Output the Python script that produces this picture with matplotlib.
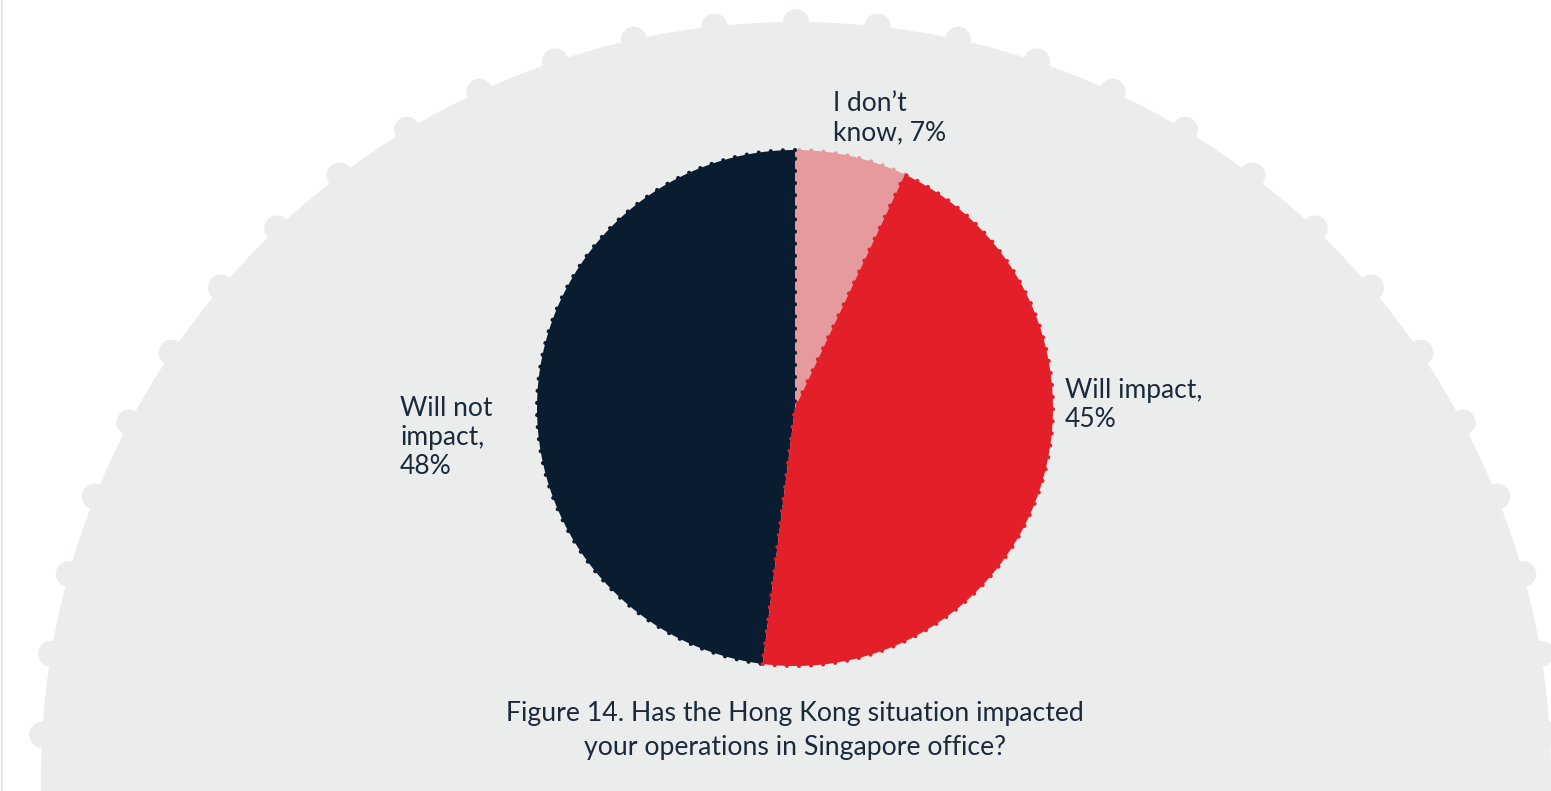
import numpy as np
import matplotlib
matplotlib.use("Agg")
import matplotlib.pyplot as plt
from matplotlib.patches import Circle

plt.rcParams['font.family'] = ['Lato', 'DejaVu Sans']

# Survey answers (share of respondents, %)
categories = ["I don\u2019t know", "Will impact", "Will not impact"]
shares = [7, 45, 48]
label_templates = ["I don\u2019t\nknow, {}%", "Will impact,\n{}%", "Will not\nimpact,\n{}%"]
caption = "Figure 14. Has the Hong Kong situation impacted\nyour operations in Singapore office?"

W, H = 1551, 791
BG_GREY = "#EBECEC"
TEXT = "#1B2A3B"
colors = ["#E79A9E", "#E3202A", "#0A1C30"]

fig = plt.figure(figsize=(W / 100, H / 100), dpi=100)
ax = fig.add_axes([0, 0, 1, 1])

# big grey dome with little bumps along its rim
dome_c = (796, H - 777)
dome_r = 755
ax.add_patch(Circle(dome_c, dome_r, facecolor=BG_GREY, edgecolor="none", zorder=0))
bump_angles = np.deg2rad(90 + 6.2 * np.arange(-15, 16))
for a in bump_angles:
    bx = dome_c[0] + dome_r * np.cos(a)
    by = dome_c[1] + dome_r * np.sin(a)
    ax.add_patch(Circle((bx, by), 13, facecolor=BG_GREY, edgecolor="none", zorder=0))

# pie with dotted (scalloped) outlines
wedges, _ = ax.pie(
    shares,
    colors=colors,
    startangle=90,
    counterclock=False,
    center=(795, H - 408),
    radius=258,
    wedgeprops=dict(linewidth=3.0, linestyle=(0, (0.01, 2.9)), capstyle="round"),
)
for w, z in zip(wedges, [2, 4, 3]):
    w.set_edgecolor(w.get_facecolor())
    w.set_zorder(z)

# slice labels (anchored on the baseline of the last line)
label_pos = [(833, 140), (1065, 427), (400, 474)]
for tmpl, v, (lx, ly) in zip(label_templates, shares, label_pos):
    ax.text(lx, H - ly, tmpl.format(v), ha="left", va="baseline",
            fontsize=19, color=TEXT, zorder=5)

ax.text(795, H - 755, caption, ha="center", va="baseline", fontsize=19.2,
        color=TEXT, linespacing=1.47, zorder=5)

# faint page edge on the left
ax.axvline(1.5, color="#E6E6E6", linewidth=1.5, zorder=1)

ax.set_xlim(0, W)
ax.set_ylim(0, H)
ax.set_aspect("equal")
ax.axis("off")

plt.savefig("out.png", dpi=100)
